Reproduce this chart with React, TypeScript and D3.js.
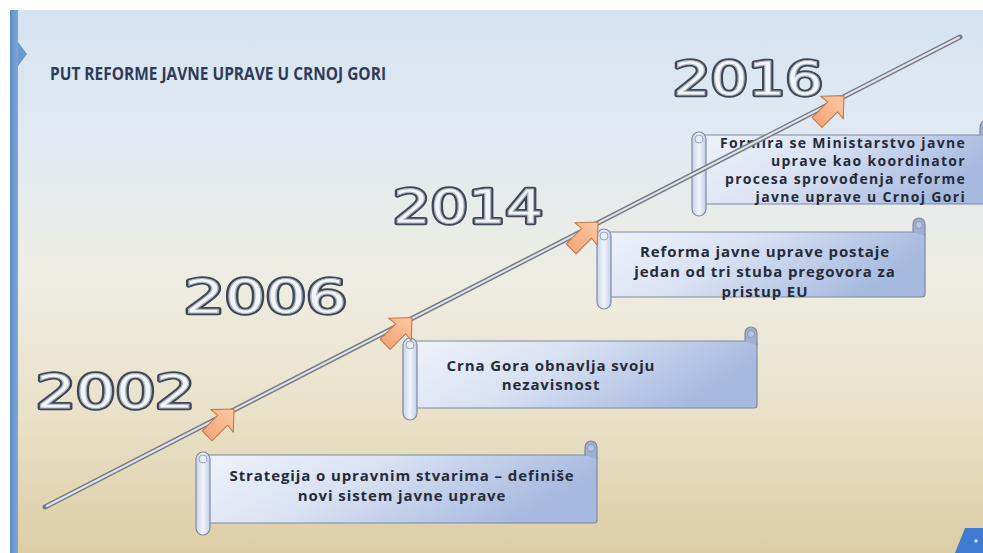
import React from "react";
import * as d3 from "d3";

// ---- data ----
const years: number[] = [2002, 2006, 2014, 2016];
const yearLabels: string[] = ["2002", "2006", "2014", "2016"];
const eventTexts: string[][] = [
  ["Strategija o upravnim stvarima – definiše", "novi sistem javne uprave"],
  ["Crna Gora obnavlja svoju", "nezavisnost"],
  ["Reforma javne uprave postaje", "jedan od tri stuba pregovora za", "pristup EU"],
  ["Formira se Ministarstvo javne", "uprave kao koordinator", "procesa sprovođenja reforme", "javne uprave u Crnoj Gori"],
];
const title = "PUT REFORME JAVNE UPRAVE U CRNOJ GORI";

// ---- layout (not data) ----
const W = 983;
const H = 553;
const LINE = { x0: 45, y0: 507, x1: 960, y1: 37 };
const markerX = d3.scaleLinear().domain(years).range([232, 410, 596, 842]);
const lineY = d3.scaleLinear().domain([LINE.x0, LINE.x1]).range([LINE.y0, LINE.y1]);

const labelLayout = [
  { x: 36, base: 408, w: 159 },
  { x: 184, base: 313, w: 163 },
  { x: 393, base: 223, w: 150 },
  { x: 673, base: 95, w: 150 },
];

const scrollLayout = [
  { x: 196, y: 455, w: 401, h: 68, anchor: "middle", tx: 402, base: 481, lh: 20, fs: 15, ls: 0.9 },
  { x: 403, y: 341, w: 354, h: 67, anchor: "middle", tx: 551, base: 371, lh: 19, fs: 15, ls: 0.9 },
  { x: 597, y: 232, w: 328, h: 65, anchor: "middle", tx: 765, base: 257, lh: 20, fs: 15, ls: 0.9 },
  { x: 692, y: 135, w: 300, h: 69, anchor: "end", tx: 966, base: 148, lh: 18, fs: 14, ls: 1.3 },
];

const FONT = "'Open Sans', 'DejaVu Sans', sans-serif";

function Scroll({ L, lines }: { L: any; lines: string[] }) {
  const rollW = 14;
  const rx = L.x + rollW / 2;
  const right = L.x + L.w;
  return (
    <g>
      <rect x={rx} y={L.y} width={L.w - rollW / 2} height={L.h} rx={3}
        fill="url(#scrollGrad)" stroke="#7f8aa2" strokeWidth={1.2} />
      <path
        d={`M${right - 12},${L.y} L${right - 12},${L.y - 8} A6,6 0 0 1 ${right},${L.y - 8} L${right},${L.y + 4}`}
        fill="#9eb0d2" stroke="#7f8aa2" strokeWidth={1.2} />
      <circle cx={right - 6} cy={L.y - 7} r={3.5} fill="#b9c6df" stroke="#8591aa" strokeWidth={0.8} />
      <rect x={L.x} y={L.y - 3} width={rollW} height={L.h + 15} rx={7}
        fill="url(#rollGrad)" stroke="#7f8aa2" strokeWidth={1.2} />
      <circle cx={L.x + 7} cy={L.y + 4} r={4} fill="#e8edf5" stroke="#8591aa" strokeWidth={0.8} />
      {lines.map((t, i) => (
        <text key={i} x={L.tx} y={L.base + i * L.lh} textAnchor={L.anchor}
          fontFamily={FONT} fontWeight={700} fontSize={L.fs} letterSpacing={L.ls}
          fill="#262b38">
          {t}
        </text>
      ))}
    </g>
  );
}

function Arrow({ x, y }: { x: number; y: number }) {
  const pts: [number, number][] = [
    [0, 0], [-17, -16], [-16, -7], [-38, -7], [-38, 7], [-16, 7], [-17, 16],
  ];
  const d = d3.line()(pts) + "Z";
  return (
    <path d={d} transform={`translate(${x + 2},${y - 2}) rotate(-45)`}
      fill="url(#arrowGrad)" stroke="#c27950" strokeWidth={1.1} strokeLinejoin="round" />
  );
}

export default function App() {
  return (
    <svg width={W} height={H} style={{ position: "absolute", left: 0, top: 0, display: "block" }}>
      <defs>
        <linearGradient id="bgGrad" x1="0" y1="0" x2="0" y2="1">
          <stop offset="0" stopColor="#d4e3f2" />
          <stop offset="0.25" stopColor="#e2eaf1" />
          <stop offset="0.5" stopColor="#eeede2" />
          <stop offset="0.75" stopColor="#e9e1c8" />
          <stop offset="1" stopColor="#dccda4" />
        </linearGradient>
        <linearGradient id="barGrad" x1="0" y1="0" x2="1" y2="0">
          <stop offset="0" stopColor="#5a8cc8" />
          <stop offset="1" stopColor="#7ea7d6" />
        </linearGradient>
        <linearGradient id="scrollGrad" x1="0" y1="0" x2="1" y2="0.3">
          <stop offset="0" stopColor="#eef2fa" />
          <stop offset="0.45" stopColor="#d9e2f3" />
          <stop offset="1" stopColor="#a6b9df" />
        </linearGradient>
        <linearGradient id="rollGrad" x1="0" y1="0" x2="1" y2="0">
          <stop offset="0" stopColor="#c9d4e8" />
          <stop offset="0.5" stopColor="#f1f4fa" />
          <stop offset="1" stopColor="#c3cfe6" />
        </linearGradient>
        <linearGradient id="arrowGrad" x1="0" y1="0" x2="1" y2="0">
          <stop offset="0" stopColor="#f3a679" />
          <stop offset="1" stopColor="#fcc9a2" />
        </linearGradient>
      </defs>

      <rect x={0} y={0} width={W} height={H} fill="#ffffff" />
      <rect x={10} y={10} width={W - 10} height={H - 10} fill="url(#bgGrad)" />
      <rect x={10} y={10} width={8} height={H - 10} fill="url(#barGrad)" />
      <polygon points="18,42 27,54 18,66" fill="#6a98cf" />

      <text x={50} y={80} fontFamily={FONT} fontWeight={700} fontSize={18}
        fill="#2d3b58" textLength={336} lengthAdjust="spacingAndGlyphs">
        {title}
      </text>

      {eventTexts.map((lines, i) => (
        <Scroll key={i} L={scrollLayout[i]} lines={lines} />
      ))}

      <line x1={LINE.x0} y1={LINE.y0} x2={LINE.x1} y2={LINE.y1}
        stroke="#777c87" strokeWidth={5} strokeLinecap="round" />
      <line x1={LINE.x0 + 2} y1={LINE.y0 - 1} x2={LINE.x1 - 1} y2={LINE.y1 + 0.5}
        stroke="#e2e5ea" strokeWidth={2} strokeLinecap="round" />

      {years.map((yv, i) => {
        const x = markerX(yv);
        return <Arrow key={i} x={x} y={lineY(x)} />;
      })}

      {yearLabels.map((t, i) => {
        const L = labelLayout[i];
        return (
          <g key={i}>
            <text x={L.x} y={L.base} fontFamily="'DejaVu Sans', sans-serif" fontSize={47}
              textLength={L.w} lengthAdjust="spacingAndGlyphs"
              fill="none" stroke="#3f4656" strokeWidth={4.5} strokeLinejoin="round">
              {t}
            </text>
            <text x={L.x} y={L.base} fontFamily="'DejaVu Sans', sans-serif" fontSize={47}
              textLength={L.w} lengthAdjust="spacingAndGlyphs"
              fill="#f2f4f7" stroke="#aeb5c0" strokeWidth={1}>
              {t}
            </text>
          </g>
        );
      })}

      <polygon points="955,553 965,528 983,528 983,553" fill="#3c7bd0" />
      <circle cx={976} cy={541} r={1.8} fill="#cfe0f5" />
    </svg>
  );
}
